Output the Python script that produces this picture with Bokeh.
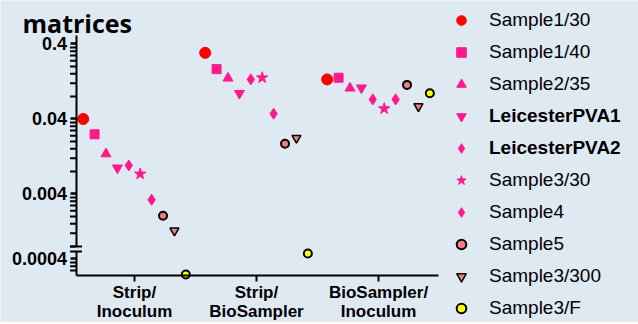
from bokeh.plotting import figure
from bokeh.models import (Range1d, LogScale, FixedTicker, Legend, LegendItem,
                          ColumnDataSource, Label, LinearAxis, LogAxis)
from bokeh.transform import dodge
from bokeh.embed import file_html
from bokeh.resources import INLINE

# ---------------- data ----------------
categories = ["Strip/\nInoculum", "Strip/\nBioSampler", "BioSampler/\nInoculum"]
series_names = ["Sample1/30", "Sample1/40", "Sample2/35", "LeicesterPVA1", "LeicesterPVA2",
                "Sample3/30", "Sample4", "Sample5", "Sample3/300", "Sample3/F"]

sample1_30 = [0.040, 0.305, 0.135]
sample1_40 = [0.025, 0.185, 0.142]
sample2_35 = [0.0137, 0.140, 0.103]
leicester_pva1 = [0.0089, 0.088, 0.104]
leicester_pva2 = [0.0096, 0.135, 0.073]
sample3_30 = [0.0074, 0.142, 0.055]
sample4 = [0.00335, 0.047, 0.073]
sample5 = [0.00205, 0.0187, 0.114]
sample3_300 = [0.0013, 0.0223, 0.059]
sample3_f = [0.000248, 0.000473, 0.088]

series_values = [sample1_30, sample1_40, sample2_35, leicester_pva1, leicester_pva2,
                 sample3_30, sample4, sample5, sample3_300, sample3_f]

y_major = [0.4, 0.04, 0.004]
y_major_labels = ["0.4", "0.04", "0.004"]
y_low_major = [0.0004]
y_low_labels = ["0.0004"]
minor_multiples = [2, 3, 4, 5, 6, 7, 8, 9]
minor_lower = [0.00028, 0.00032, 0.00036]

# ---------------- style / scales ----------------
BG = "#dfe9f2"
PINK = "#ff1a8c"
SALMON = "#f08080"
markers = ["circle", "square", "triangle", "inverted_triangle", "diamond",
           "star", "diamond", "circle", "inverted_triangle", "circle"]
fills = ["#ff0000", PINK, PINK, PINK, PINK, PINK, PINK, SALMON, SALMON, "#ffff00"]
lines = ["#ff0000", PINK, PINK, PINK, PINK, PINK, PINK, "black", "black", "black"]
sizes = [11, 9, 10, 10, 11, 12, 11, 8, 9, 8]
lwidths = [1, 1, 1, 1, 1, 1, 1, 2, 1.5, 2]

BREAK_VALUE = 0.0006                     # values below sit on the lower (broken) segment
MAIN_RANGE = (7.7379e-5, 1.5207)         # upper segment scale
LOW_RANGE = (5.6930e-5, 1.1187)          # lower segment scale
X_RANGE = (-1.0984, 4.1311)
Y_AXIS_AT = -0.4795                      # x position of the y axis
X_AXIS_AT = 0.00032762                   # main-scale value of the x axis
UPPER_BOUNDS = (0.00079810, 0.51918)
LOWER_BOUNDS = (0.00024099, 0.00050357)
PX = 1 / 122.0                           # one pixel in x data units

p = figure(width=638, height=322, output_backend="svg", toolbar_location=None,
           x_range=Range1d(*X_RANGE), y_range=Range1d(*MAIN_RANGE),
           y_axis_type="log", x_axis_location=None, y_axis_location=None,
           min_border=0, min_border_left=0, min_border_right=0, min_border_top=0,
           min_border_bottom=0,
           background_fill_color=BG, border_fill_color=BG, outline_line_color=None)
p.extra_y_ranges = {"low": Range1d(*LOW_RANGE)}
p.extra_y_scales = {"low": LogScale()}
p.grid.visible = False


def style_y(ax):
    ax.axis_line_width = 2
    ax.axis_line_color = "black"
    ax.major_tick_line_width = 2.5
    ax.major_tick_line_color = "black"
    ax.major_tick_in = 0
    ax.major_tick_out = 6
    ax.minor_tick_line_color = None
    ax.major_label_text_color = "black"
    ax.major_label_text_font = "Liberation Sans"
    ax.major_label_text_font_style = "bold"
    ax.major_label_text_font_size = "18px"
    ax.major_label_standoff = 3


# ---------------- x axis ----------------
xa = LinearAxis(fixed_location=X_AXIS_AT)
xa.ticker = FixedTicker(ticks=list(range(len(categories))), minor_ticks=[])
xa.major_label_overrides = {i: c for i, c in enumerate(categories)}
xa.bounds = (Y_AXIS_AT, 2.4918)
xa.axis_line_width = 2
xa.axis_line_color = "black"
xa.major_tick_line_width = 2
xa.major_tick_line_color = "black"
xa.major_tick_in = 0
xa.major_tick_out = 6
xa.minor_tick_line_color = None
xa.major_label_text_color = "black"
xa.major_label_text_font = "Liberation Sans"
xa.major_label_text_font_style = "bold"
xa.major_label_text_font_size = "17px"
xa.major_label_text_line_height = 1.0
xa.major_label_standoff = 2
p.add_layout(xa, "below")

# ---------------- y axes (broken) ----------------
ya = LogAxis(fixed_location=Y_AXIS_AT, bounds=UPPER_BOUNDS)
ya.ticker = FixedTicker(ticks=y_major, minor_ticks=[])
ya.major_label_overrides = {v: s for v, s in zip(y_major, y_major_labels)}
style_y(ya)
p.add_layout(ya, "left")

yl = LogAxis(fixed_location=Y_AXIS_AT, bounds=LOWER_BOUNDS, y_range_name="low")
yl.ticker = FixedTicker(ticks=y_low_major, minor_ticks=[])
yl.major_label_overrides = {v: s for v, s in zip(y_low_major, y_low_labels)}
style_y(yl)
p.add_layout(yl, "left")

# minor ticks (2..9 multiples of each decade below the major ticks)
minor_upper = [round(b * m / 10, 7) for b in y_major for m in minor_multiples]
minor_upper = [v for v in minor_upper if UPPER_BOUNDS[0] < v < UPPER_BOUNDS[1]]
src_mu = ColumnDataSource(dict(y=minor_upper, x0=[Y_AXIS_AT - 6 * PX] * len(minor_upper),
                               x1=[Y_AXIS_AT] * len(minor_upper)))
p.segment(x0="x0", x1="x1", y0="y", y1="y", source=src_mu, line_color="black", line_width=2)
src_ml = ColumnDataSource(dict(y=minor_lower, x0=[Y_AXIS_AT - 6 * PX] * len(minor_lower),
                               x1=[Y_AXIS_AT] * len(minor_lower)))
p.segment(x0="x0", x1="x1", y0="y", y1="y", source=src_ml, line_color="black", line_width=2,
          y_range_name="low")

# break marks at the two ends of the gap
p.segment(x0=[Y_AXIS_AT - 6 * PX], x1=[Y_AXIS_AT + 6 * PX],
          y0=[UPPER_BOUNDS[0]], y1=[UPPER_BOUNDS[0]], line_color="black", line_width=2)
p.segment(x0=[Y_AXIS_AT - 6 * PX], x1=[Y_AXIS_AT + 6 * PX],
          y0=[LOWER_BOUNDS[1]], y1=[LOWER_BOUNDS[1]], line_color="black", line_width=2,
          y_range_name="low")

# ---------------- points ----------------
renderers = []
n = len(series_names)
for i, (name, vals) in enumerate(zip(series_names, series_values)):
    off = (i - (n - 1) / 2) * 0.0935
    up = [(c, v) for c, v in enumerate(vals) if v >= BREAK_VALUE]
    lo = [(c, v) for c, v in enumerate(vals) if v < BREAK_VALUE]
    kw = dict(marker=markers[i], size=sizes[i], fill_color=fills[i], line_color=lines[i],
              line_width=lwidths[i])
    src_up = ColumnDataSource(dict(cat=[c for c, _ in up], val=[v for _, v in up]))
    r = p.scatter(x=dodge("cat", off), y="val", source=src_up, **kw)
    if lo:
        src_lo = ColumnDataSource(dict(cat=[c for c, _ in lo], val=[v for _, v in lo]))
        p.scatter(x=dodge("cat", off), y="val", source=src_lo, y_range_name="low", **kw)
    renderers.append(r)


# ---------------- legends ----------------
def add_legend(idx, loc, bold, spacing):
    lg = Legend(items=[LegendItem(label=series_names[i], renderers=[renderers[i]]) for i in idx],
                location=loc, orientation="vertical", spacing=spacing, padding=0, margin=0,
                glyph_width=26, glyph_height=24, label_height=24, label_standoff=15,
                label_text_font="Liberation Sans", label_text_font_size="19px",
                label_text_color="black",
                label_text_font_style="bold" if bold else "normal",
                background_fill_alpha=0, border_line_alpha=0)
    p.add_layout(lg)


add_legend([0, 1, 2], (448, 226), False, 8)
add_legend([3, 4], (448, 162), True, 8)
add_legend([5, 6, 7, 8, 9], (448, 2), False, 8)

# ---------------- heading ----------------
p.add_layout(Label(x=22, y=300, x_units="screen", y_units="screen", text="matrices",
                   text_font="Open Sans", text_font_style="bold", text_font_size="25px",
                   text_baseline="alphabetic", text_color="black"))

open("out.html", "w").write(file_html(p, INLINE))
